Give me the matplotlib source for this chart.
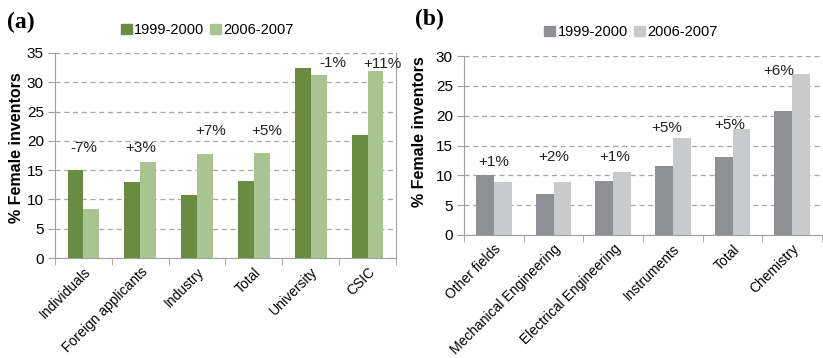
import numpy as np
import matplotlib.pyplot as plt
from matplotlib.patches import Patch

# panel (a): applicant type
cats_a = ['Individuals', 'Foreign applicants', 'Industry', 'Total', 'University', 'CSIC']
a_1999 = [15.0, 13.0, 10.8, 13.1, 32.5, 21.0]
a_2006 = [8.3, 16.4, 17.7, 17.9, 31.2, 32.0]
a_change = ['-7%', '+3%', '+7%', '+5%', '-1%', '+11%']

# panel (b): technology field
cats_b = ['Other fields', 'Mechanical Engineering', 'Electrical Engineering',
          'Instruments', 'Total', 'Chemistry']
b_1999 = [10.1, 6.9, 9.0, 11.6, 13.1, 20.8]
b_2006 = [8.8, 8.8, 10.5, 16.3, 17.8, 27.0]
b_change = ['+1%', '+2%', '+1%', '+5%', '+5%', '+6%']

periods = ['1999-2000', '2006-2007']

# where the change labels sit (x offset from group centre, y in data units)
a_lab_dx = [0, 0, 0.23, 0.23, 0.39, 0.26]
a_lab_y = [18.8, 18.8, 21.7, 21.7, 33.3, 33.2]
b_lab_dx = [0, 0, 0.03, -0.1, -0.05, -0.23]
b_lab_y = [12.2, 13.0, 13.0, 18.0, 18.5, 27.5]

plt.rcParams['font.family'] = ['Liberation Sans', 'DejaVu Sans']
grid_c = '#a6a6a6'
spine_c = '#a0a0a0'


def panel(ax, cats, v1, v2, changes, dx, ly, colors, ymax, width, right_spine,
          leg_xy, ylab_xy, tag, tag_xy):
    x = np.arange(len(cats))
    ax.bar(x - width / 2, v1, width, color=colors[0], zorder=3)
    ax.bar(x + width / 2, v2, width, color=colors[1], zorder=3)
    for i, t in enumerate(changes):
        ax.text(x[i] + dx[i], ly[i], t, ha='center', va='center', fontsize=11, color='#222222')
    ax.set_xlim(-0.5, len(cats) - 0.5)
    ax.set_ylim(0, ymax)
    ax.set_yticks(np.arange(0, ymax + 1, 5))
    ax.yaxis.grid(True, color=grid_c, linestyle=(0, (4, 3)), linewidth=0.9, zorder=0)
    ax.set_axisbelow(True)
    ax.set_xticks(x)
    ax.set_xticklabels(cats, rotation=45, ha='right', rotation_mode='anchor', fontsize=10)
    ax.set_xticks(np.arange(-0.5, len(cats)), minor=True)
    ax.tick_params(axis='x', which='major', length=0, pad=5)
    ax.tick_params(axis='x', which='minor', length=5, color=spine_c)
    ax.tick_params(axis='y', length=5, color=spine_c, labelsize=11, pad=3)
    for s in ['left', 'bottom', 'right']:
        ax.spines[s].set_color(spine_c)
    ax.spines['top'].set_visible(False)
    ax.spines['right'].set_visible(right_spine)
    ax.set_ylabel('% Female inventors', fontsize=11.5, fontweight='bold')
    ax.yaxis.set_label_coords(*ylab_xy)
    handles = [Patch(color=colors[0]), Patch(color=colors[1])]
    ax.legend(handles, periods, loc='center', bbox_to_anchor=leg_xy, ncol=2, frameon=False,
              fontsize=10.5, handlelength=0.75, handleheight=0.75, handletextpad=0.15,
              columnspacing=0.4, borderaxespad=0)
    ax.text(tag_xy[0], tag_xy[1], tag, transform=ax.transAxes, fontsize=17, fontweight='bold',
            family='Liberation Serif', va='center', ha='left')


fig = plt.figure(figsize=(8.23, 3.58), dpi=100)
ax1 = fig.add_axes([55 / 823, 100 / 358, 341 / 823, 205 / 358])
ax2 = fig.add_axes([464 / 823, 123 / 358, 358 / 823, 179 / 358])

panel(ax1, cats_a, a_1999, a_2006, a_change, a_lab_dx, a_lab_y,
      ['#6a8c40', '#a9c490'], 35, 0.28, True, (0.446, 1.112),
      (-0.09, 0.54), '(a)', (-0.14, 1.15))
panel(ax2, cats_b, b_1999, b_2006, b_change, b_lab_dx, b_lab_y,
      ['#8f9094', '#c9cacc'], 30, 0.30, False, (0.466, 1.134),
      (-0.104, 0.575), '(b)', (-0.137, 1.205))

fig.savefig('out.png', dpi=100)
